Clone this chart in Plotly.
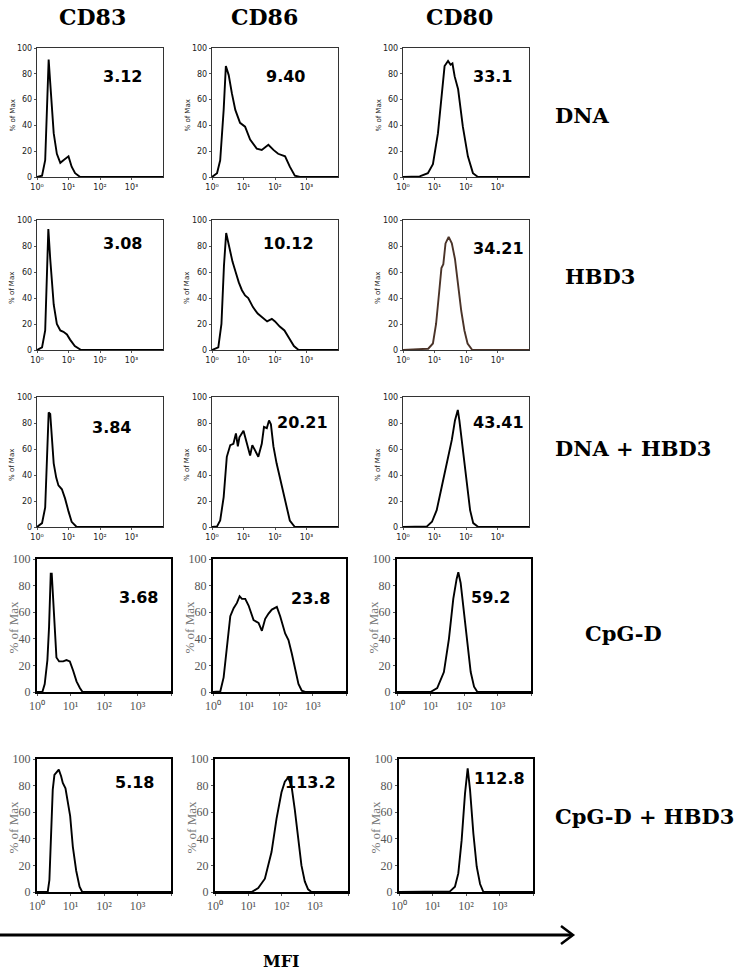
import plotly.graph_objects as go

W, H = 743, 975

# ---------------- data ----------------
markers = ["CD83", "CD86", "CD80"]
conditions = ["DNA", "HBD3", "DNA + HBD3", "CpG-D", "CpG-D + HBD3"]
mfi_labels = [
    ["3.12", "9.40", "33.1"],
    ["3.08", "10.12", "34.21"],
    ["3.84", "20.21", "43.41"],
    ["3.68", "23.8", "59.2"],
    ["5.18", "113.2", "112.8"],
]
decade_ticks = [0, 1, 2, 3]
decade_text = ["10⁰", "10¹", "10²", "10³"]
pct_ticks = [0, 20, 40, 60, 80, 100]

# log10(fluorescence) positions and % of max
dna_cd83_x = [0, 0.16, 0.26, 0.32, 0.37, 0.42, 0.53, 0.63, 0.74, 0.84, 1.0, 1.1, 1.21, 1.37, 4]
dna_cd83_y = [0, 1, 13, 60, 91, 73, 34, 18, 11, 13, 16, 8, 3, 0, 0]
dna_cd86_x = [0, 0.16, 0.26, 0.37, 0.44, 0.53, 0.63, 0.74, 0.89, 1.05, 1.21, 1.42, 1.58, 1.79, 1.95, 2.1, 2.32, 2.47, 2.63, 2.79, 4]
dna_cd86_y = [0, 3, 13, 52, 86, 79, 65, 52, 42, 39, 29, 22, 21, 25, 21, 18, 16, 8, 1, 0, 0]
dna_cd80_x = [0, 0.53, 0.79, 0.95, 1.11, 1.22, 1.32, 1.43, 1.51, 1.57, 1.64, 1.75, 1.9, 2.06, 2.22, 2.38, 4]
dna_cd80_y = [0, 0.5, 3, 10, 34, 60, 86, 90, 87, 88, 78, 68, 39, 16, 3, 0, 0]

hbd3_cd83_x = [0, 0.16, 0.26, 0.32, 0.36, 0.42, 0.53, 0.63, 0.74, 0.84, 0.95, 1.05, 1.2, 1.4, 4]
hbd3_cd83_y = [0, 2, 15, 70, 93, 70, 35, 20, 15, 14, 12, 8, 3, 0, 0]
hbd3_cd86_x = [0, 0.2, 0.3, 0.38, 0.45, 0.55, 0.65, 0.75, 0.85, 0.95, 1.05, 1.15, 1.3, 1.45, 1.6, 1.75, 1.9, 2.0, 2.15, 2.3, 2.45, 2.6, 2.75, 4]
hbd3_cd86_y = [0, 2, 20, 65, 90, 78, 68, 60, 52, 46, 42, 40, 33, 28, 25, 22, 24, 22, 18, 15, 9, 3, 0, 0]
hbd3_cd80_x = [0, 0.8, 0.95, 1.05, 1.15, 1.22, 1.28, 1.35, 1.45, 1.55, 1.65, 1.75, 1.85, 1.95, 2.05, 2.2, 4]
hbd3_cd80_y = [0, 1, 5, 20, 45, 63, 66, 82, 87, 82, 70, 50, 30, 15, 5, 0, 0]

dnahbd3_cd83_x = [0, 0.16, 0.26, 0.32, 0.37, 0.42, 0.47, 0.53, 0.61, 0.68, 0.79, 0.89, 1.0, 1.1, 1.26, 4]
dnahbd3_cd83_y = [0, 3, 15, 54, 88, 87, 67, 49, 38, 32, 29, 22, 12, 4, 0, 0]
dnahbd3_cd86_x = [0, 0.16, 0.26, 0.37, 0.47, 0.58, 0.68, 0.76, 0.82, 0.87, 1.0, 1.1, 1.21, 1.28, 1.37, 1.47, 1.58, 1.65, 1.74, 1.81, 1.87, 1.95, 2.05, 2.16, 2.26, 2.37, 2.47, 2.63, 4]
dnahbd3_cd86_y = [0, 0.5, 5, 23, 54, 63, 64, 72, 62, 69, 74, 64, 55, 63, 59, 54, 64, 77, 76, 82, 79, 62, 49, 38, 26, 15, 5, 0, 0]
dnahbd3_cd80_x = [0, 0.76, 0.92, 1.07, 1.23, 1.39, 1.55, 1.65, 1.74, 1.79, 1.89, 2.02, 2.13, 2.23, 2.39, 4]
dnahbd3_cd80_y = [0, 0.5, 4, 13, 31, 49, 67, 82, 90, 82, 62, 33, 13, 3, 0, 0]

cpgd_cd83_x = [0, 0.16, 0.23, 0.31, 0.36, 0.41, 0.44, 0.48, 0.53, 0.58, 0.66, 0.78, 0.88, 0.98, 1.08, 1.18, 1.28, 1.36, 4]
cpgd_cd83_y = [0, 0, 6, 24, 49, 89, 89, 72, 49, 26, 23, 23, 24, 23, 16, 8, 3, 0, 0]
cpgd_cd86_x = [0, 0.22, 0.32, 0.42, 0.52, 0.62, 0.72, 0.8, 0.87, 0.97, 1.07, 1.22, 1.37, 1.47, 1.57, 1.67, 1.77, 1.92, 2.02, 2.17, 2.27, 2.37, 2.47, 2.57, 2.67, 2.77, 4]
cpgd_cd86_y = [0, 0.5, 11, 36, 57, 63, 67, 72, 70, 70, 65, 54, 52, 46, 55, 59, 62, 64, 57, 44, 39, 29, 16, 6, 1, 0, 0]
cpgd_cd80_x = [0, 1.0, 1.2, 1.4, 1.55, 1.68, 1.78, 1.83, 1.9, 2.0, 2.1, 2.2, 2.3, 2.4, 4]
cpgd_cd80_y = [0, 0, 3, 15, 40, 70, 85, 90, 82, 60, 35, 15, 4, 0, 0]

cpgdhbd3_cd83_x = [0, 0.32, 0.37, 0.42, 0.47, 0.52, 0.59, 0.65, 0.72, 0.77, 0.85, 0.92, 0.99, 1.07, 1.17, 1.27, 1.35, 4]
cpgdhbd3_cd83_y = [0, 0, 9, 44, 77, 88, 90, 92, 87, 82, 78, 67, 57, 34, 16, 4, 0, 0]
cpgdhbd3_cd86_x = [0, 1.1, 1.3, 1.5, 1.7, 1.85, 2.0, 2.1, 2.2, 2.3, 2.4, 2.5, 2.6, 2.7, 2.8, 2.9, 4]
cpgdhbd3_cd86_y = [0, 0, 3, 10, 30, 55, 75, 83, 86, 80, 62, 40, 20, 8, 2, 0, 0]
cpgdhbd3_cd80_x = [0, 1.52, 1.67, 1.77, 1.87, 1.97, 2.05, 2.12, 2.22, 2.32, 2.42, 2.52, 4]
cpgdhbd3_cd80_y = [0, 0.5, 4, 14, 39, 74, 93, 77, 44, 19, 6, 0, 0]

curves = [
    [(dna_cd83_x, dna_cd83_y), (dna_cd86_x, dna_cd86_y), (dna_cd80_x, dna_cd80_y)],
    [(hbd3_cd83_x, hbd3_cd83_y), (hbd3_cd86_x, hbd3_cd86_y), (hbd3_cd80_x, hbd3_cd80_y)],
    [(dnahbd3_cd83_x, dnahbd3_cd83_y), (dnahbd3_cd86_x, dnahbd3_cd86_y), (dnahbd3_cd80_x, dnahbd3_cd80_y)],
    [(cpgd_cd83_x, cpgd_cd83_y), (cpgd_cd86_x, cpgd_cd86_y), (cpgd_cd80_x, cpgd_cd80_y)],
    [(cpgdhbd3_cd83_x, cpgdhbd3_cd83_y), (cpgdhbd3_cd86_x, cpgdhbd3_cd86_y), (cpgdhbd3_cd80_x, cpgdhbd3_cd80_y)],
]

# ---------------- layout (pixels) ----------------
row_y = [(48, 177), (220, 350), (397, 527), (559, 692), (759, 892)]
col_x = [
    [(37, 163), (212, 338), (403, 529)],
    [(37, 163), (212, 338), (403, 529)],
    [(37, 163), (212, 338), (403, 529)],
    [(37, 171), (213, 346), (397, 531)],
    [(37, 171), (215, 348), (399, 533)],
]
label_pos = [
    [(122, 77), (285, 77), (492, 77)],
    [(122, 243), (288, 243), (498, 248)],
    [(112, 427), (302, 422), (498, 422)],
    [(138, 597), (310, 598), (490, 597)],
    [(134, 782), (310, 782), (499, 778)],
]
col_title_x = [93, 264, 459]
row_label_pos = [(553, 115), (563, 277), (553, 448), (583, 633), (553, 816)]

fig = go.Figure()
annotations = []


def px2fx(x):
    return x / W


def px2fy(y):
    return 1 - y / H


n = 0
for r in range(5):
    new_style = r >= 3
    y0, y1 = row_y[r]
    for c in range(3):
        n += 1
        x0, x1 = col_x[r][c]
        xs, ys = curves[r][c]
        xname = "x" if n == 1 else f"x{n}"
        yname = "y" if n == 1 else f"y{n}"
        color = "#4a3328" if (r == 1 and c == 2) else "black"
        fig.add_trace(go.Scatter(x=xs, y=ys, mode="lines", xaxis=xname, yaxis=yname,
                                 line=dict(color=color, width=1.9), hoverinfo="skip",
                                 showlegend=False))
        if new_style:
            tick_font = dict(family="Liberation Serif", size=12, color="#555555")
            xtv = decade_ticks + [4]
            xtt = decade_text + [""]
            line_w = 2
            line_c = "black"
        else:
            tick_font = dict(family="DejaVu Sans", size=8, color="#222222")
            xtv = decade_ticks
            xtt = decade_text
            line_w = 1.4
            line_c = "#333333"
        fig.layout["xaxis" if n == 1 else f"xaxis{n}"] = dict(
            domain=[px2fx(x0), px2fx(x1)], anchor=yname, range=[0, 4], automargin=False,
            showgrid=False, zeroline=False, showline=True, linecolor=line_c, linewidth=line_w,
            mirror=True, tickvals=xtv, ticktext=xtt, ticks="outside", ticklen=2,
            tickcolor="#555555", tickfont=tick_font, fixedrange=True)
        fig.layout["yaxis" if n == 1 else f"yaxis{n}"] = dict(
            domain=[px2fy(y1), px2fy(y0)], anchor=xname, range=[0, 100], automargin=False,
            showgrid=False, zeroline=False, showline=True, linecolor=line_c, linewidth=line_w,
            mirror=True, tickvals=pct_ticks, ticks="outside", ticklen=2,
            tickcolor="#555555", tickfont=tick_font, fixedrange=True)
        # MFI value label
        lx, ly = label_pos[r][c]
        annotations.append(dict(
            x=(lx - x0) / (x1 - x0), y=1 - (ly - y0) / (y1 - y0),
            xref=f"{xname} domain", yref=f"{yname} domain",
            text=mfi_labels[r][c], showarrow=False, xanchor="center", yanchor="middle",
            font=dict(family="DejaVu Sans", size=16, color="black", weight="bold")))
        # y axis title
        if new_style:
            annotations.append(dict(
                x=px2fx(13 + (x0 - 37)), y=px2fy((y0 + y1) / 2 + 2), xref="paper", yref="paper",
                text="% of Max", textangle=-90, showarrow=False,
                xanchor="center", yanchor="middle",
                font=dict(family="Liberation Serif", size=13, color="#777777")))
        else:
            annotations.append(dict(
                x=px2fx(12 + (x0 - 37)), y=px2fy((y0 + y1) / 2 + 3), xref="paper", yref="paper",
                text="% of Max", textangle=-90, showarrow=False,
                xanchor="center", yanchor="middle",
                font=dict(family="DejaVu Sans", size=7, color="#222222")))

# column titles
for c, name in enumerate(markers):
    annotations.append(dict(x=px2fx(col_title_x[c]), y=px2fy(17), xref="paper", yref="paper",
                            text=name, showarrow=False, xanchor="center", yanchor="middle",
                            font=dict(family="DejaVu Serif", size=22, color="black", weight="bold")))
# row labels
for r, name in enumerate(conditions):
    lx, ly = row_label_pos[r]
    annotations.append(dict(x=px2fx(lx), y=px2fy(ly), xref="paper", yref="paper",
                            text=name, showarrow=False, xanchor="left", yanchor="middle",
                            font=dict(family="DejaVu Serif", size=21, color="black", weight="bold")))
# MFI axis label
annotations.append(dict(x=px2fx(281), y=px2fy(961), xref="paper", yref="paper",
                        text="MFI", showarrow=False, xanchor="center", yanchor="middle",
                        font=dict(family="DejaVu Serif", size=16, color="black", weight="bold")))

shapes = [
    dict(type="line", xref="paper", yref="paper", x0=0, x1=px2fx(572), y0=px2fy(935), y1=px2fy(935),
         line=dict(color="black", width=3)),
    dict(type="path", xref="paper", yref="paper",
         path=f"M {px2fx(561)} {px2fy(926)} L {px2fx(573)} {px2fy(935)} L {px2fx(561)} {px2fy(944)}",
         line=dict(color="black", width=2.5)),
]

fig.update_layout(width=W, height=H, margin=dict(l=0, r=0, t=0, b=0, pad=0, autoexpand=False),
                  paper_bgcolor="white", plot_bgcolor="white",
                  annotations=annotations, shapes=shapes, showlegend=False)

# remove the browser's default 8px page margin so the figure sits at the window origin
fig.write_html("out.html", config={"displayModeBar": False},
               post_script="document.body.style.margin='0px';document.body.style.overflow='hidden';")
